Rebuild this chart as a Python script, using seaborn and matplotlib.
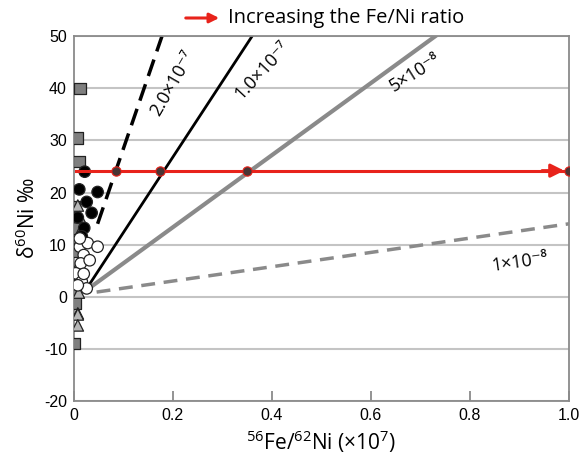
import pandas as pd
import seaborn as sns
import matplotlib.pyplot as plt

# Sample groups near the origin
sq_x = [0.012, 0.007, 0.010, 0.000, 0.002, 0.000, 0.000, 0.002, 0.003, 0.000]
sq_y = [40.0, 30.5, 26.0, 17.3, 13.2, 8.8, 4.5, 1.0, -1.2, -9.0]

tri_x = [0.008, 0.012, 0.010, 0.012, 0.006, 0.010, 0.008, 0.008, 0.008]
tri_y = [17.5, 15.3, 12.0, 11.0, 5.5, 0.8, -3.2, -3.4, -5.5]

blk_x = [0.022, 0.011, 0.048, 0.036, 0.008, 0.021, 0.016, 0.026]
blk_y = [24.0, 20.6, 20.1, 16.1, 15.2, 13.2, 11.6, 18.2]

wht_x = [0.012, 0.028, 0.048, 0.020, 0.014, 0.032, 0.004, 0.016, 0.026, 0.008, 0.020, 0.012]
wht_y = [9.6, 10.3, 9.6, 8.0, 6.4, 7.0, 4.5, 2.9, 1.6, 2.2, 4.4, 11.2]

# Reference lines (start/end points)
line_labels = ["2.0×10⁻⁷", "1.0×10⁻⁷", "5×10⁻⁸", "1×10⁻⁸"]
line_x0 = [0.048, 0.022, 0.026, 0.046]
line_y0 = [14.0, 1.0, 1.3, 0.9]
line_x1 = [0.178, 0.360, 0.730, 1.000]
line_y1 = [50.0, 50.0, 50.0, 14.0]

# Red Fe/Ni path
red_x = [0.005, 0.086, 0.173, 0.349, 1.000]
red_y = [24.2, 24.2, 24.2, 24.2, 24.2]

plt.rcParams["font.family"] = ["Liberation Sans", "DejaVu Sans"]
plt.rcParams["mathtext.fontset"] = "custom"
plt.rcParams["mathtext.rm"] = "Open Sans"
plt.rcParams["axes.unicode_minus"] = False

df = pd.concat([
    pd.DataFrame({"x": sq_x, "y": sq_y, "group": "sq"}),
    pd.DataFrame({"x": tri_x, "y": tri_y, "group": "tri"}),
    pd.DataFrame({"x": blk_x, "y": blk_y, "group": "blk"}),
    pd.DataFrame({"x": wht_x, "y": wht_y, "group": "wht"}),
])

fig = plt.figure(figsize=(5.86, 4.58), dpi=100)
ax = fig.add_axes([0.126, 0.1245, 0.845, 0.7965])

# grid
for gy in range(-20, 51, 10):
    ax.axhline(gy, color="#c4c4c4", lw=1.5, zorder=0)

# reference lines
styles = [dict(color="black", lw=2.5, ls=(0, (5, 2.5))),
          dict(color="black", lw=2.0, ls="-"),
          dict(color="#8a8a8a", lw=3.0, ls="-"),
          dict(color="#8a8a8a", lw=2.5, ls=(0, (4, 2.5)))]
for i in range(4):
    sns.lineplot(x=[line_x0[i], line_x1[i]], y=[line_y0[i], line_y1[i]], ax=ax, zorder=2, **styles[i])

palette = {"sq": "#7f7f7f", "tri": "#b5b5b5", "blk": "black", "wht": "white"}
markers = {"sq": "s", "tri": "^", "blk": "o", "wht": "o"}
sns.scatterplot(data=df, x="x", y="y", hue="group", style="group", palette=palette,
                markers=markers, s=68, edgecolor="#222222", linewidth=0.9,
                legend=False, ax=ax, zorder=3)

# red path with arrow
sns.lineplot(x=red_x, y=red_y, color="#e8231b", lw=2.2, ax=ax, zorder=4)
ax.annotate("", xy=(red_x[-1] - 0.004, red_y[-1]), xytext=(red_x[-1] - 0.06, red_y[-1]),
            arrowprops=dict(arrowstyle="-|>", color="#e8231b", lw=2.2, mutation_scale=20),
            zorder=5)
ax.scatter(red_x[1:], red_y[1:], s=45, color="#4a3434", edgecolor="#e8231b", linewidth=0.8, zorder=6)

# line labels
lab_pos = [(0.200, 41.0, 60), (0.380, 43.5, 47), (0.690, 43.0, 32), (0.90, 6.6, 8)]
for txt, (lx, ly, rot) in zip(line_labels, lab_pos):
    ax.text(lx, ly, txt, rotation=rot, ha="center", va="center", fontsize=13,
            family=["Open Sans", "DejaVu Sans"], rotation_mode="anchor", zorder=5)

ax.set_xlim(0, 1.0)
ax.set_ylim(-20, 50)
ax.set_xticks([0, 0.2, 0.4, 0.6, 0.8, 1.0])
ax.set_xticklabels(["0", "0.2", "0.4", "0.6", "0.8", "1.0"])
ax.set_yticks(range(-20, 51, 10))
ax.tick_params(axis="x", direction="in", length=7, width=1.2, color="#808080", labelsize=11.5, pad=5)
ax.tick_params(axis="y", length=0, labelsize=11.5, pad=5)
for sp in ax.spines.values():
    sp.set_color("#8a8a8a")
    sp.set_linewidth(1.3)

ax.set_xlabel(r"$\mathregular{^{56}}$Fe/$\mathregular{^{62}}$Ni (×10$\mathregular{^{7}}$)",
              fontsize=15, family=["Open Sans", "DejaVu Sans"], labelpad=4)
ax.set_ylabel(r"δ$\mathregular{^{60}}$Ni ‰", fontsize=15, family=["Open Sans", "DejaVu Sans"], labelpad=3)

# header legend
ax.annotate("", xy=(222 / 586, 1 - 18 / 458), xytext=(183 / 586, 1 - 18 / 458),
            xycoords="figure fraction", textcoords="figure fraction",
            arrowprops=dict(arrowstyle="-|>", color="#e8231b", lw=2.2, mutation_scale=14))
fig.text(228 / 586, 1 - 18 / 458, "Increasing the Fe/Ni ratio", ha="left", va="center",
         fontsize=14.5, family=["Open Sans", "DejaVu Sans"])

plt.savefig("out.png", dpi=100)
